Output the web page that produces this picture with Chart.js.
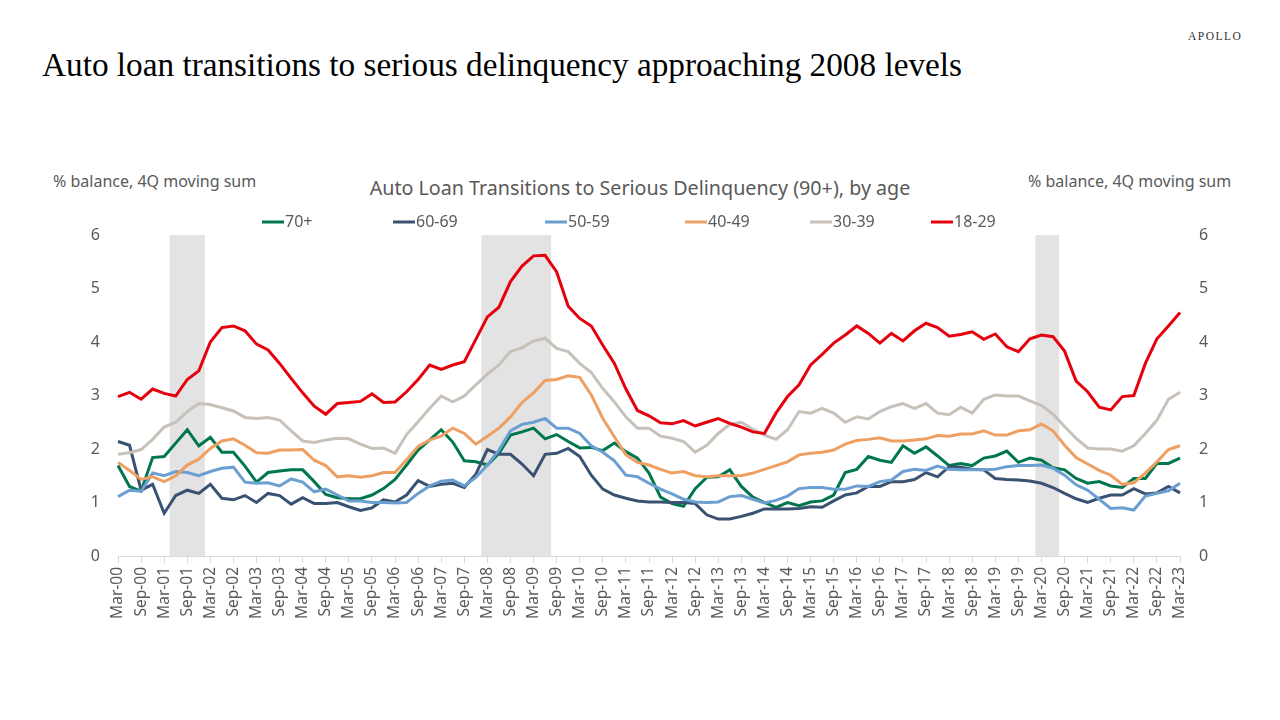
<!DOCTYPE html>
<html>
<head>
<meta charset="utf-8">
<title>Auto loan transitions to serious delinquency</title>
<script src="https://cdn.jsdelivr.net/npm/chart.js@4.4.1/dist/chart.umd.min.js"></script>
<style>
    body { margin: 0; width: 1280px; height: 720px; background: #fff; overflow: hidden; position: relative; font-family: 'Noto Sans', sans-serif; }
    #headline { position: absolute; left: 42px; top: 49px; font-family: 'Liberation Serif', serif; font-size: 33px; line-height: 1; color: #000; white-space: nowrap; transform-origin: 0 0; }
    #brand { position: absolute; left: 1188px; top: 31px; font-family: 'Liberation Serif', serif; font-size: 11.5px; line-height: 1; letter-spacing: 1.5px; color: #333; }
    .unit { position: absolute; top: 171px; font-size: 16px; line-height: 20px; color: #595959; white-space: nowrap; }
    #chart-title { position: absolute; left: 0; width: 1280px; top: 176px; text-align: center; font-size: 19.7px; line-height: 24px; color: #595959; }
    canvas { position: absolute; left: 0; top: 0; }
</style>
</head>
<body>
<div id="headline">Auto loan transitions to serious delinquency approaching 2008 levels</div>
<div id="brand">APOLLO</div>
<div class="unit" style="left:53px">% balance, 4Q moving sum</div>
<div class="unit" style="left:1028px">% balance, 4Q moving sum</div>
<div id="chart-title">Auto Loan Transitions to Serious Delinquency (90+), by age</div>
<canvas id="graph" width="1280" height="720"></canvas>
<script>
// Trimestres (Mar-00 ... Mar-23)
var quarters = [
    'Mar-00','Jun-00','Sep-00','Dec-00','Mar-01','Jun-01','Sep-01','Dec-01',
    'Mar-02','Jun-02','Sep-02','Dec-02','Mar-03','Jun-03','Sep-03','Dec-03',
    'Mar-04','Jun-04','Sep-04','Dec-04','Mar-05','Jun-05','Sep-05','Dec-05',
    'Mar-06','Jun-06','Sep-06','Dec-06','Mar-07','Jun-07','Sep-07','Dec-07',
    'Mar-08','Jun-08','Sep-08','Dec-08','Mar-09','Jun-09','Sep-09','Dec-09',
    'Mar-10','Jun-10','Sep-10','Dec-10','Mar-11','Jun-11','Sep-11','Dec-11',
    'Mar-12','Jun-12','Sep-12','Dec-12','Mar-13','Jun-13','Sep-13','Dec-13',
    'Mar-14','Jun-14','Sep-14','Dec-14','Mar-15','Jun-15','Sep-15','Dec-15',
    'Mar-16','Jun-16','Sep-16','Dec-16','Mar-17','Jun-17','Sep-17','Dec-17',
    'Mar-18','Jun-18','Sep-18','Dec-18','Mar-19','Jun-19','Sep-19','Dec-19',
    'Mar-20','Jun-20','Sep-20','Dec-20','Mar-21','Jun-21','Sep-21','Dec-21',
    'Mar-22','Jun-22','Sep-22','Dec-22','Mar-23'
];

// Trimestres de recessão (sombreado)
var recessionQuarters = ['Jun-01','Sep-01','Dec-01','Mar-08','Jun-08','Sep-08','Dec-08','Mar-09','Jun-09','Mar-20','Jun-20'];

var ageGroups = ['70+', '60-69', '50-59', '40-49', '30-39', '18-29'];

var age70plus = [
    1.69,1.30,1.21,1.84,1.86,2.11,2.36,2.06,2.22,1.94,1.94,1.68,1.38,1.56,1.59,1.61,
    1.61,1.39,1.15,1.09,1.07,1.07,1.14,1.26,1.43,1.70,1.98,2.17,2.36,2.13,1.78,1.76,
    1.70,1.92,2.26,2.32,2.39,2.19,2.27,2.14,2.02,2.03,1.97,2.11,1.95,1.83,1.55,1.10,
    0.98,0.93,1.26,1.47,1.48,1.61,1.30,1.10,1.00,0.91,1.00,0.94,1.01,1.03,1.14,1.56,
    1.62,1.86,1.79,1.75,2.06,1.92,2.04,1.87,1.69,1.73,1.69,1.83,1.87,1.96,1.75,1.83,
    1.79,1.65,1.61,1.45,1.36,1.39,1.31,1.28,1.45,1.45,1.73,1.73,1.83
];
var age60to69 = [
    2.14,2.07,1.23,1.34,0.80,1.13,1.23,1.17,1.34,1.08,1.05,1.13,1.00,1.17,1.13,0.97,
    1.09,0.98,0.98,1.00,0.92,0.85,0.90,1.05,1.01,1.14,1.41,1.30,1.34,1.36,1.28,1.53,
    1.99,1.90,1.90,1.72,1.50,1.90,1.92,2.01,1.86,1.51,1.25,1.14,1.08,1.03,1.01,1.01,
    1.00,1.00,0.98,0.77,0.69,0.69,0.74,0.80,0.88,0.88,0.88,0.89,0.92,0.91,1.03,1.14,
    1.18,1.30,1.30,1.39,1.39,1.43,1.56,1.48,1.67,1.66,1.62,1.61,1.45,1.43,1.42,1.40,
    1.36,1.28,1.17,1.07,1.00,1.08,1.14,1.14,1.26,1.16,1.18,1.30,1.18
];
var age50to59 = [
    1.11,1.23,1.21,1.55,1.50,1.58,1.56,1.50,1.58,1.64,1.66,1.38,1.36,1.37,1.31,1.44,
    1.38,1.20,1.25,1.14,1.03,1.03,1.00,1.00,0.99,1.00,1.17,1.31,1.40,1.42,1.31,1.47,
    1.70,1.98,2.34,2.46,2.50,2.57,2.39,2.39,2.29,2.06,1.94,1.78,1.51,1.48,1.36,1.25,
    1.16,1.06,1.01,1.00,1.01,1.11,1.13,1.06,0.99,1.04,1.12,1.26,1.28,1.28,1.25,1.25,
    1.31,1.30,1.39,1.42,1.58,1.62,1.60,1.68,1.62,1.61,1.61,1.61,1.62,1.67,1.69,1.69,
    1.70,1.64,1.51,1.33,1.23,1.06,0.89,0.90,0.86,1.12,1.17,1.22,1.36
];
var age40to49 = [
    1.75,1.60,1.43,1.48,1.39,1.50,1.70,1.81,2.01,2.15,2.19,2.07,1.93,1.92,1.98,1.98,
    1.99,1.79,1.69,1.48,1.50,1.47,1.50,1.56,1.56,1.80,2.05,2.17,2.24,2.39,2.29,2.09,
    2.24,2.39,2.60,2.87,3.05,3.28,3.30,3.37,3.34,3.01,2.57,2.23,1.89,1.75,1.70,1.62,
    1.55,1.58,1.50,1.48,1.50,1.50,1.50,1.55,1.62,1.69,1.76,1.89,1.92,1.94,1.98,2.09,
    2.16,2.18,2.21,2.15,2.15,2.17,2.19,2.25,2.24,2.28,2.28,2.34,2.26,2.26,2.34,2.36,
    2.47,2.34,2.07,1.84,1.72,1.60,1.51,1.34,1.37,1.55,1.76,1.99,2.06
];
var age30to39 = [
    1.90,1.93,1.99,2.18,2.41,2.50,2.70,2.85,2.83,2.77,2.71,2.59,2.57,2.59,2.54,2.34,
    2.15,2.12,2.17,2.20,2.19,2.09,2.01,2.02,1.92,2.27,2.51,2.76,2.99,2.88,2.99,3.20,
    3.40,3.57,3.82,3.89,4.02,4.07,3.88,3.82,3.60,3.43,3.13,2.88,2.60,2.39,2.39,2.24,
    2.20,2.14,1.94,2.07,2.29,2.46,2.50,2.37,2.26,2.18,2.36,2.70,2.67,2.76,2.67,2.50,
    2.60,2.56,2.70,2.79,2.85,2.76,2.85,2.67,2.64,2.78,2.67,2.93,3.01,2.99,2.99,2.90,
    2.81,2.65,2.42,2.20,2.02,2.00,2.00,1.96,2.06,2.29,2.54,2.93,3.06
];
var age18to29 = [
    2.98,3.06,2.93,3.12,3.04,2.99,3.30,3.46,4.00,4.27,4.30,4.21,3.96,3.85,3.60,3.32,
    3.05,2.80,2.65,2.85,2.87,2.89,3.03,2.87,2.88,3.07,3.30,3.57,3.49,3.57,3.63,4.05,
    4.47,4.65,5.13,5.42,5.61,5.62,5.31,4.67,4.44,4.30,3.94,3.60,3.12,2.72,2.62,2.49,
    2.47,2.53,2.43,2.50,2.57,2.48,2.41,2.32,2.29,2.67,2.98,3.20,3.57,3.77,3.98,4.13,
    4.30,4.16,3.98,4.16,4.02,4.21,4.35,4.27,4.11,4.14,4.19,4.05,4.15,3.91,3.82,4.06,
    4.13,4.10,3.83,3.27,3.07,2.78,2.73,2.98,3.00,3.60,4.06,4.30,4.55
];

var seriesValues = [age70plus, age60to69, age50to59, age40to49, age30to39, age18to29];
var seriesColors = ['#00764f', '#3a5272', '#6b9fd2', '#ee9f62', '#c8c1ba', '#e6000d'];

var yTicks = [0, 1, 2, 3, 4, 5, 6];

document.addEventListener('DOMContentLoaded', function () {
    // Ajusta a largura do título principal
    var headline = document.getElementById('headline');
    var w = headline.getBoundingClientRect().width;
    headline.style.transform = 'scaleX(' + (920 / w) + ')';

    var datasets = ageGroups.map(function (name, i) {
        return {
            type: 'line',
            label: name,
            data: seriesValues[i],
            borderColor: seriesColors[i],
            backgroundColor: seriesColors[i],
            borderWidth: 3,
            pointRadius: 0,
            tension: 0,
            order: ageGroups.length - i
        };
    });

    // Barras de recessão
    datasets.push({
        type: 'bar',
        label: 'Recession',
        data: quarters.map(function (q) {
            return recessionQuarters.indexOf(q) >= 0 ? yTicks[yTicks.length - 1] : null;
        }),
        backgroundColor: '#e3e3e3',
        borderWidth: 0,
        barPercentage: 1,
        categoryPercentage: 1,
        order: 20
    });

    // Legenda desenhada à mão
    var legendX = [262, 393, 545, 685, 810, 931];
    var lineLegend = {
        id: 'lineLegend',
        afterDraw: function (chart) {
            var ctx = chart.ctx;
            ctx.save();
            ctx.font = '16px "Noto Sans"';
            ctx.fillStyle = '#595959';
            ctx.textBaseline = 'middle';
            ageGroups.forEach(function (name, i) {
                var x = legendX[i];
                ctx.strokeStyle = seriesColors[i];
                ctx.lineWidth = 3;
                ctx.beginPath();
                ctx.moveTo(x, 222);
                ctx.lineTo(x + 22, 222);
                ctx.stroke();
                ctx.fillText(name, x + 23, 222);
            });
            ctx.restore();
        }
    };

    var tickFont = { family: 'Noto Sans', size: 16 };

    var ctx = document.getElementById('graph').getContext('2d');
    new Chart(ctx, {
        type: 'line',
        data: { labels: quarters, datasets: datasets },
        options: {
            responsive: false,
            animation: false,
            layout: { padding: { left: 78, right: 60, top: 235, bottom: 0 } },
            plugins: {
                legend: { display: false },
                title: { display: false },
                tooltip: { enabled: false }
            },
            scales: {
                x: {
                    offset: false,
                    grid: { offset: false, drawOnChartArea: false, drawTicks: true, tickLength: 7, color: '#d9d9d9' },
                    border: { display: true, color: '#d9d9d9' },
                    ticks: {
                        autoSkip: false,
                        minRotation: 90,
                        maxRotation: 90,
                        padding: 4,
                        color: '#595959',
                        font: { family: 'Noto Sans', size: 15.5 },
                        callback: function (value, index) {
                            return index % 2 === 0 ? quarters[index] : null;
                        }
                    },
                    afterFit: function (scale) { scale.height = 164; }
                },
                y: {
                    position: 'left',
                    min: yTicks[0],
                    max: yTicks[yTicks.length - 1],
                    grid: { display: false, drawTicks: false },
                    border: { display: false },
                    ticks: { stepSize: 1, padding: 18, color: '#595959', font: tickFont },
                    afterFit: function (scale) { scale.width = 40; }
                },
                y2: {
                    position: 'right',
                    min: yTicks[0],
                    max: yTicks[yTicks.length - 1],
                    grid: { display: false, drawTicks: false },
                    border: { display: false },
                    ticks: { stepSize: 1, padding: 19, color: '#595959', font: tickFont },
                    afterFit: function (scale) { scale.width = 40; }
                }
            }
        },
        plugins: [lineLegend]
    });
});
</script>
</body>
</html>
